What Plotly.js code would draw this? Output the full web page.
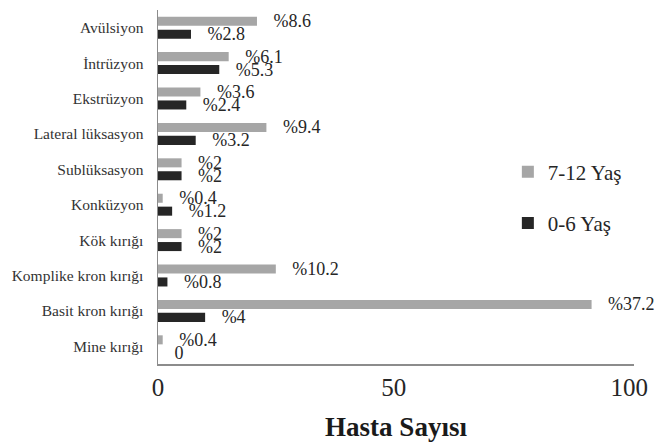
<!DOCTYPE html>
<html>
<head>
<meta charset="utf-8">
<script src="https://cdn.plot.ly/plotly-3.0.1.min.js"></script>
<style>
  html, body { margin: 0; padding: 0; background: #ffffff; }
  #chart { width: 655px; height: 442px; }
</style>
</head>
<body>
<div id="chart"></div>
<script>
// Injury types, listed bottom to top as they appear on the y axis
const categories = [
  "Mine kırığı", "Basit kron kırığı", "Komplike kron kırığı", "Kök kırığı",
  "Konküzyon", "Sublüksasyon", "Lateral lüksasyon", "Ekstrüzyon",
  "İntrüzyon", "Avülsiyon"
];

// Patient counts per age group
const counts0to6  = [0, 10, 2, 5, 3, 5, 8, 6, 13, 7];
const counts7to12 = [1, 92, 25, 5, 1, 5, 23, 9, 15, 21];

// Percentage labels shown next to each bar
const labels0to6  = ["0", "%4", "%0.8", "%2", "%1.2", "%2", "%3.2", "%2.4", "%5.3", "%2.8"];
const labels7to12 = ["%0.4", "%37.2", "%10.2", "%2", "%0.4", "%2", "%9.4", "%3.6", "%6.1", "%8.6"];

const seriesNames = ["0-6 Yaş", "7-12 Yaş"];
const xTicks = [0, 50, 100];

const serif = "Liberation Serif";
const pad = "\u00a0\u00a0\u00a0";

function barTrace(values, labels, name, color, group, rank) {
  return {
    type: "bar",
    orientation: "h",
    y: categories,
    x: values,
    name: name,
    legendgroup: group,
    legendrank: rank,
    marker: { color: color },
    text: labels.map(t => pad + t),
    textposition: "outside",
    constraintext: "none",
    cliponaxis: false,
    textfont: { family: serif, size: 18, color: "#262626" },
    hoverinfo: "skip"
  };
}

const data = [
  barTrace(counts0to6, labels0to6, seriesNames[0], "#262626", "a", 2),
  barTrace(counts7to12, labels7to12, seriesNames[1], "#a6a6a6", "b", 1)
];

const layout = {
  width: 655,
  height: 442,
  margin: { l: 158, r: 21, t: 10, b: 78 },
  paper_bgcolor: "#ffffff",
  plot_bgcolor: "#ffffff",
  font: { family: serif },
  barmode: "group",
  bargap: 0.27,
  bargroupgap: 0.3,
  showlegend: true,
  legend: {
    x: 0.735, xanchor: "left",
    y: 0.6, yanchor: "top",
    traceorder: "grouped",
    tracegroupgap: 21,
    font: { family: serif, size: 21, color: "#262626" },
    bgcolor: "rgba(0,0,0,0)"
  },
  xaxis: {
    range: [0, 101],
    tickvals: xTicks,
    showgrid: false,
    zeroline: false,
    showline: true,
    linecolor: "#8c8c8c",
    linewidth: 1.5,
    ticks: "",
    tickfont: { family: serif, size: 25, color: "#262626" },
    title: {
      text: "<b>Hasta Sayısı</b>",
      font: { family: serif, size: 27, color: "#1a1a1a" },
      standoff: 20
    },
    fixedrange: true
  },
  yaxis: {
    type: "category",
    categoryorder: "array",
    categoryarray: categories,
    showgrid: false,
    zeroline: false,
    showline: true,
    linecolor: "#8c8c8c",
    linewidth: 1.5,
    ticks: "",
    ticklabelstandoff: 10,
    tickfont: { family: serif, size: 15.5, color: "#333333" },
    fixedrange: true
  }
};

Plotly.newPlot("chart", data, layout, { displayModeBar: false, staticPlot: true });
</script>
</body>
</html>
